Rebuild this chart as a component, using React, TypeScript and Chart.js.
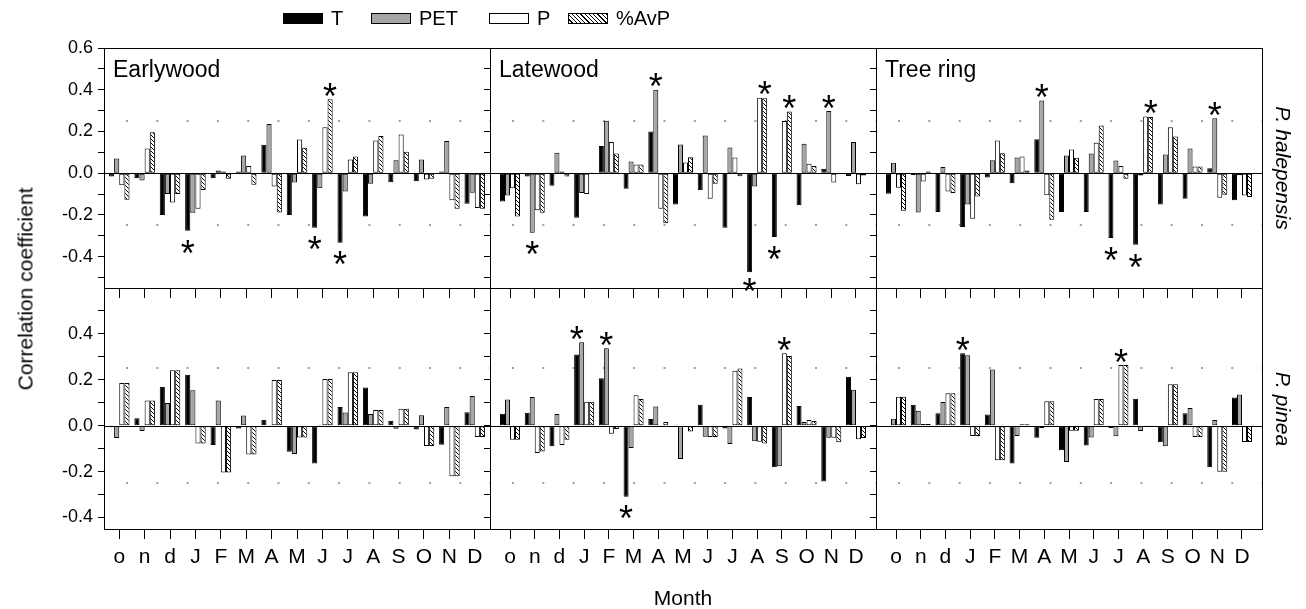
import React, { useEffect, useRef } from 'react';
import { Chart, registerables } from 'chart.js';

Chart.register(...registerables);

const FONT = '"Liberation Sans", Arial, Helvetica, sans-serif';
Chart.defaults.font.family = FONT;
Chart.defaults.color = '#000';

// ---------- categories / labels ----------
const months = ['o', 'n', 'd', 'J', 'F', 'M', 'A', 'M', 'J', 'J', 'A', 'S', 'O', 'N', 'D'];
const seriesNames = ['T', 'PET', 'P', '%AvP'];
const panelTitles = ['Earlywood', 'Latewood', 'Tree ring'];
const speciesNames = ['P. halepensis', 'P. pinea'];
const yTicksTop = [0.6, 0.5, 0.4, 0.3, 0.2, 0.1, 0, -0.1, -0.2, -0.3, -0.4, -0.5];
const yTicksBottom = [0.5, 0.4, 0.3, 0.2, 0.1, 0, -0.1, -0.2, -0.3, -0.4];

// ---------- P. halepensis : Earlywood ----------
const halEwT = [-0.016, -0.024, -0.2, -0.276, -0.024, 0.008, 0.136, -0.2, -0.261, -0.333, -0.207, -0.043, -0.038, 0.008, -0.146];
const halEwPET = [0.07, -0.035, -0.1, -0.19, 0.013, 0.085, 0.236, -0.045, -0.072, -0.088, -0.051, 0.062, 0.066, 0.154, -0.093];
const halEwP = [-0.058, 0.119, -0.14, -0.17, 0.008, 0.035, -0.064, 0.162, 0.22, 0.066, 0.157, 0.186, -0.03, -0.13, -0.167];
const halEwAvP = [-0.127, 0.196, -0.1, -0.08, -0.027, -0.055, -0.188, 0.122, 0.354, 0.08, 0.178, 0.103, -0.026, -0.17, -0.17];
const halEwSig = [[3, 0], [8, 0], [8, 3], [9, 0]];

// ---------- P. halepensis : Latewood ----------
const halLwT = [-0.135, -0.016, -0.06, -0.213, 0.131, -0.075, 0.2, -0.15, -0.082, -0.261, -0.474, -0.306, -0.154, 0.021, -0.013];
const halLwPET = [-0.107, -0.285, 0.098, -0.095, 0.252, 0.056, 0.4, 0.138, 0.181, 0.123, -0.064, 0.003, 0.141, 0.298, 0.149];
const halLwP = [-0.072, -0.178, 0.008, -0.1, 0.149, 0.042, -0.17, 0.051, -0.122, 0.075, 0.362, 0.25, 0.045, -0.045, -0.053];
const halLwAvP = [-0.207, -0.19, -0.016, 0.003, 0.095, 0.042, -0.24, 0.077, -0.05, -0.014, 0.359, 0.296, 0.035, -0.005, -0.011];
const halLwSig = [[1, 1], [6, 1], [10, 0], [10, 3], [11, 0], [11, 3], [13, 1]];

// ---------- P. halepensis : Tree ring ----------
const halTrT = [-0.098, -0.008, -0.186, -0.258, -0.021, -0.048, 0.163, -0.186, -0.186, -0.311, -0.343, -0.15, -0.122, 0.024, -0.13];
const halTrPET = [0.05, -0.188, 0.03, -0.15, 0.062, 0.075, 0.348, 0.085, 0.095, 0.061, -0.011, 0.09, 0.119, 0.263, -0.01];
const halTrP = [-0.07, -0.04, -0.088, -0.218, 0.157, 0.08, -0.106, 0.114, 0.146, 0.035, 0.272, 0.22, 0.032, -0.117, -0.107];
const halTrAvP = [-0.18, 0.008, -0.095, -0.112, 0.096, 0.013, -0.223, 0.074, 0.229, -0.026, 0.269, 0.176, 0.032, -0.103, -0.114];
const halTrSig = [[6, 1], [9, 0], [10, 0], [10, 3], [13, 1]];

// ---------- P. pinea : Earlywood ----------
const pinEwT = [0.003, 0.033, 0.17, 0.222, -0.084, -0.012, 0.026, -0.113, -0.165, 0.081, 0.167, 0.022, -0.017, -0.083, 0.059];
const pinEwPET = [-0.054, -0.023, 0.099, 0.155, 0.11, 0.045, 0.003, -0.123, 0.004, 0.058, 0.051, -0.013, 0.046, 0.081, 0.129];
const pinEwP = [0.186, 0.11, 0.242, -0.078, -0.204, -0.125, 0.199, -0.051, 0.203, 0.233, 0.068, 0.074, -0.088, -0.22, -0.049];
const pinEwAvP = [0.186, 0.11, 0.242, -0.078, -0.204, -0.125, 0.199, -0.051, 0.203, 0.233, 0.068, 0.074, -0.088, -0.22, -0.049];
const pinEwSig: number[][] = [];

// ---------- P. pinea : Latewood ----------
const pinLwT = [0.052, 0.057, -0.09, 0.31, 0.207, -0.309, 0.029, 0.004, 0.091, -0.012, 0.125, -0.181, 0.086, -0.243, 0.213];
const pinLwPET = [0.114, 0.125, 0.051, 0.364, 0.338, -0.097, 0.084, -0.145, -0.048, -0.08, -0.068, -0.177, 0.016, -0.052, 0.157];
const pinLwP = [-0.061, -0.119, -0.084, 0.104, -0.035, 0.133, 0.003, 0.0, -0.049, 0.239, -0.07, 0.316, 0.025, -0.052, -0.059];
const pinLwAvP = [-0.061, -0.112, -0.061, 0.104, -0.014, 0.116, 0.016, -0.025, -0.049, 0.249, -0.077, 0.304, 0.02, -0.072, -0.054];
const pinLwSig = [[3, 0], [4, 1], [5, 0], [11, 2]];

// ---------- P. pinea : Tree ring ----------
const pinTrT = [0.002, 0.091, 0.054, 0.316, 0.049, -0.165, -0.052, -0.107, -0.086, -0.01, 0.117, -0.072, 0.054, -0.181, 0.123];
const pinTrPET = [0.03, 0.065, 0.103, 0.307, 0.245, -0.045, -0.01, -0.158, -0.051, -0.046, -0.023, -0.09, 0.077, 0.025, 0.136];
const pinTrP = [0.126, 0.007, 0.141, -0.045, -0.151, 0.006, 0.107, -0.022, 0.116, 0.264, 0.003, 0.181, -0.049, -0.201, -0.071];
const pinTrAvP = [0.126, 0.007, 0.141, -0.045, -0.151, 0.006, 0.107, -0.022, 0.116, 0.264, 0.003, 0.181, -0.049, -0.201, -0.071];
const pinTrSig = [[3, 0], [9, 2]];

// ---------- layout (pixels) ----------
const W = 1306;
const H = 609;
const COL_L = [104, 490, 876];
const COL_R = [490, 876, 1262];
const ROW_T = [48, 288];
const ROW_B = [288, 529];
const X_RANGE = [[-0.6, 14.6], [-0.81, 14.81], [-0.81, 14.81]];
const Y_RANGE = [[-0.55, 0.6], [-0.45, 0.6]];
const YW = 60;
const XH = [10, 60];
const STAR_SIZE = 36;

const PANELS = [
  { row: 0, col: 0, series: [halEwT, halEwPET, halEwP, halEwAvP], sig: halEwSig },
  { row: 0, col: 1, series: [halLwT, halLwPET, halLwP, halLwAvP], sig: halLwSig },
  { row: 0, col: 2, series: [halTrT, halTrPET, halTrP, halTrAvP], sig: halTrSig },
  { row: 1, col: 0, series: [pinEwT, pinEwPET, pinEwP, pinEwAvP], sig: pinEwSig },
  { row: 1, col: 1, series: [pinLwT, pinLwPET, pinLwP, pinLwAvP], sig: pinLwSig },
  { row: 1, col: 2, series: [pinTrT, pinTrPET, pinTrP, pinTrAvP], sig: pinTrSig },
];

function makeHatch(): CanvasPattern | string {
  const c = document.createElement('canvas');
  c.width = 4;
  c.height = 4;
  const g = c.getContext('2d');
  if (!g) return '#fff';
  g.fillStyle = '#fff';
  g.fillRect(0, 0, 4, 4);
  g.strokeStyle = '#000';
  g.lineWidth = 1;
  g.beginPath();
  g.moveTo(-1, -1);
  g.lineTo(5, 5);
  g.moveTo(-1, 3);
  g.lineTo(1, 5);
  g.moveTo(3, -1);
  g.lineTo(5, 1);
  g.stroke();
  return g.createPattern(c, 'repeat') || '#fff';
}

function makeDecor(sig: number[][]) {
  return {
    id: 'panelDecor',
    beforeDatasetsDraw(chart: any) {
      const { ctx, chartArea } = chart;
      const ys = chart.scales.y;
      ctx.save();
      ctx.strokeStyle = '#a0a0a0';
      ctx.lineWidth = 2;
      ctx.setLineDash([2, 28.3]);
      ctx.lineDashOffset = -22;
      [0.25, -0.25].forEach((v) => {
        const y = Math.round(ys.getPixelForValue(v));
        ctx.beginPath();
        ctx.moveTo(chartArea.left, y);
        ctx.lineTo(chartArea.right, y);
        ctx.stroke();
      });
      ctx.restore();
    },
    afterDatasetsDraw(chart: any) {
      const { ctx, chartArea } = chart;
      ctx.save();
      const y0 = Math.round(chart.scales.y.getPixelForValue(0)) + 0.5;
      ctx.strokeStyle = '#000';
      ctx.lineWidth = 1;
      ctx.beginPath();
      ctx.moveTo(chartArea.left, y0);
      ctx.lineTo(chartArea.right, y0);
      ctx.stroke();
      ctx.strokeRect(
        Math.round(chartArea.left) + 0.5,
        Math.round(chartArea.top) + 0.5,
        Math.round(chartArea.right - chartArea.left),
        Math.round(chartArea.bottom - chartArea.top)
      );
      ctx.fillStyle = '#000';
      ctx.font = `${STAR_SIZE}px ${FONT}`;
      ctx.textAlign = 'center';
      ctx.textBaseline = 'alphabetic';
      sig.forEach(([i, s]) => {
        const el = chart.getDatasetMeta(s).data[i];
        if (!el) return;
        const pos = el.y <= el.base;
        let yy: number;
        if (pos) {
          yy = Math.min(...[0, 1, 2, 3].map((k) => {
            const e = chart.getDatasetMeta(k).data[i];
            return Math.min(e.y, e.base);
          })) - 11;
        } else {
          yy = Math.max(...[0, 1, 2, 3].map((k) => {
            const e = chart.getDatasetMeta(k).data[i];
            return Math.max(e.y, e.base);
          })) + 14;
          yy = Math.min(yy, chartArea.bottom - 5);
        }
        ctx.fillText('*', el.x, yy + STAR_SIZE * 0.575);
      });
      ctx.restore();
    },
  };
}

function buildConfig(p: any, hatch: CanvasPattern | string): any {
  const fills = ['#000000', '#a6a6a6', '#ffffff', hatch];
  const xr = X_RANGE[p.col];
  const yr = Y_RANGE[p.row];
  const yTicks = p.row === 0 ? yTicksTop : yTicksBottom;
  const xh = XH[p.row];
  return {
    type: 'bar',
    data: {
      datasets: p.series.map((vals: number[], s: number) => ({
        label: seriesNames[s],
        data: vals.map((v, i) => ({ x: i, y: v })),
        backgroundColor: fills[s],
        borderColor: '#000',
        borderWidth: 1,
        borderSkipped: false,
        categoryPercentage: 0.81,
        barPercentage: 1,
      })),
    },
    options: {
      responsive: false,
      animation: false,
      devicePixelRatio: 1,
      events: [],
      layout: {
        padding: {
          left: COL_L[p.col] - YW,
          right: W - COL_R[p.col],
          top: ROW_T[p.row],
          bottom: H - ROW_B[p.row] - xh,
        },
      },
      plugins: { legend: { display: false }, tooltip: { enabled: false } },
      scales: {
        x: {
          type: 'linear',
          min: xr[0],
          max: xr[1],
          offset: false,
          afterBuildTicks: (s: any) => {
            s.ticks = months.map((_, i) => ({ value: i }));
          },
          afterFit: (s: any) => {
            s.height = xh;
          },
          grid: {
            display: true,
            offset: false,
            drawOnChartArea: false,
            drawTicks: true,
            tickLength: 10,
            tickColor: '#000',
          },
          border: { display: true, color: '#000' },
          ticks: {
            display: p.row === 1,
            autoSkip: false,
            maxRotation: 0,
            padding: 6,
            font: { size: 21 },
            color: '#000',
            callback: (v: number) => months[Math.round(v)] ?? '',
          },
        },
        y: {
          min: yr[0],
          max: yr[1],
          afterBuildTicks: (s: any) => {
            s.ticks = yTicks.map((v) => ({ value: v }));
          },
          afterFit: (s: any) => {
            s.width = YW;
          },
          grid: {
            display: true,
            drawOnChartArea: false,
            drawTicks: true,
            tickLength: 6,
            tickColor: '#000',
          },
          border: { display: true, color: '#000' },
          ticks: {
            display: p.col === 0,
            autoSkip: false,
            padding: 5,
            font: { size: 18 },
            color: '#000',
            callback: (v: number) => {
              const k = Math.round(v * 10);
              if (k % 2 !== 0) return '';
              return (k / 10).toFixed(1);
            },
          },
        },
      },
    },
    plugins: [makeDecor(p.sig)],
  };
}

const abs = (style: React.CSSProperties): React.CSSProperties => ({ position: 'absolute', whiteSpace: 'nowrap', lineHeight: 1, ...style });

export default function App() {
  const refs = useRef<(HTMLCanvasElement | null)[]>([]);

  useEffect(() => {
    const hatch = makeHatch();
    const charts = PANELS.map((p, k) => new Chart(refs.current[k] as HTMLCanvasElement, buildConfig(p, hatch)));
    return () => {
      charts.forEach((c) => c.destroy());
    };
  }, []);

  const swatch = (bg: string): React.CSSProperties => ({
    display: 'inline-block',
    width: 40,
    height: 11,
    border: '1px solid #000',
    background: bg,
    boxSizing: 'border-box',
  });
  const hatchCss = 'repeating-linear-gradient(45deg, #fff 0px, #fff 2px, #000 2px, #000 3px)';
  const legendItems = [
    { name: seriesNames[0], bg: '#000', x: 283 },
    { name: seriesNames[1], bg: '#a6a6a6', x: 371 },
    { name: seriesNames[2], bg: '#fff', x: 489 },
    { name: seriesNames[3], bg: hatchCss, x: 568 },
  ];

  return (
    <div style={{ position: 'fixed', left: 0, top: 0, width: W, height: H, background: '#fff', fontFamily: FONT, color: '#000', overflow: 'hidden' }}>
      {PANELS.map((_, k) => (
        <canvas
          key={k}
          ref={(el) => {
            refs.current[k] = el;
          }}
          width={W}
          height={H}
          style={{ position: 'absolute', left: 0, top: 0, width: W, height: H }}
        />
      ))}
      {legendItems.map((it) => (
        <div key={it.name} style={abs({ left: it.x, top: 18, transform: 'translateY(-50%)', fontSize: 20, display: 'flex', alignItems: 'center' })}>
          <span style={swatch(it.bg)} />
          <span style={{ marginLeft: 8 }}>{it.name}</span>
        </div>
      ))}
      {panelTitles.map((t, c) => (
        <div key={t} style={abs({ left: COL_L[c] + 9, top: 69, transform: 'translateY(-50%)', fontSize: 23 })}>{t}</div>
      ))}
      <div style={abs({ left: 25, top: (ROW_T[0] + ROW_B[1]) / 2, transform: 'translate(-50%, -50%) rotate(-90deg)', fontSize: 21 })}>
        Correlation coefficient
      </div>
      <div style={abs({ left: (COL_L[0] + COL_R[2]) / 2, top: 597, transform: 'translate(-50%, -50%)', fontSize: 21 })}>Month</div>
      {speciesNames.map((s, r) => (
        <div key={s} style={abs({ left: 1283, top: (ROW_T[r] + ROW_B[r]) / 2, transform: 'translate(-50%, -50%) rotate(90deg)', fontSize: 21, fontStyle: 'italic' })}>
          {s}
        </div>
      ))}
    </div>
  );
}
